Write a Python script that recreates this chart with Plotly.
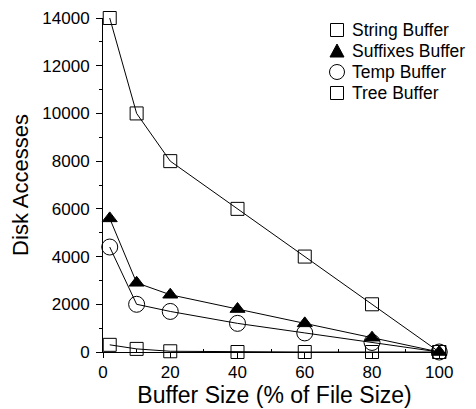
import plotly.graph_objects as go

buffer_size = [2, 10, 20, 40, 60, 80, 100]
string_buffer = [14000, 10000, 8000, 6000, 4000, 2000, 0]
suffixes_buffer = [5600, 2900, 2400, 1800, 1200, 600, 0]
temp_buffer = [4400, 2000, 1700, 1200, 800, 400, 0]
tree_buffer = [300, 130, 30, 0, 0, 0, 0]

y_ticks = [0, 2000, 4000, 6000, 8000, 10000, 12000, 14000]
x_ticks = [0, 20, 40, 60, 80, 100]
series_names = ["String Buffer", "Suffixes Buffer", "Temp Buffer", "Tree Buffer"]

series = [
    (series_names[0], string_buffer, "square-open", 13),
    (series_names[1], suffixes_buffer, "triangle-up", 13),
    (series_names[2], temp_buffer, "circle-open", 16),
    (series_names[3], tree_buffer, "square-open", 13),
]

fig = go.Figure()
for name, ys, sym, sz in series:
    fig.add_trace(go.Scatter(
        x=buffer_size, y=ys, name=name, mode="lines+markers",
        line=dict(color="black", width=1),
        marker=dict(symbol=sym, size=sz, color="black",
                    line=dict(color="black", width=1)),
        cliponaxis=False, showlegend=False,
    ))

# ---- legend (markers only, no lines), drawn with pixel-sized shapes + text ----
# page has an 8px body margin; plot area spans window px x 103..446, y 18..352
PLOT_L, PLOT_R, PLOT_T, PLOT_B = 103, 446, 18, 352
def px_x(X):
    return (X - PLOT_L) / (PLOT_R - PLOT_L)
def px_y(Y):
    return (PLOT_B - Y) / (PLOT_B - PLOT_T)

legend_marker_x = 337
legend_text_x = 350
legend_rows = [30, 51, 72, 93]
legend_kinds = ["square", "triangle", "circle", "square"]

shapes = []
annotations = []
for name, kind, row in zip(series_names, legend_kinds, legend_rows):
    common = dict(xref="paper", yref="paper", xsizemode="pixel", ysizemode="pixel",
                  xanchor=px_x(legend_marker_x), yanchor=px_y(row),
                  line=dict(color="black", width=1))
    if kind == "square":
        shapes.append(dict(type="rect", x0=-6.5, x1=6.5, y0=-6.5, y1=6.5,
                           fillcolor="white", **common))
    elif kind == "circle":
        shapes.append(dict(type="circle", x0=-7.5, x1=7.5, y0=-7.5, y1=7.5,
                           fillcolor="white", **common))
    else:
        shapes.append(dict(type="path", path="M -7,-6 L 7,-6 L 0,7 Z",
                           fillcolor="black", **common))
    annotations.append(dict(text=name, x=px_x(legend_text_x), y=px_y(row),
                            xref="paper", yref="paper", xanchor="left", yanchor="middle",
                            showarrow=False, font=dict(size=17.5)))

font = "Liberation Sans, Arial, sans-serif"
fig.update_layout(
    width=468, height=401,
    margin=dict(l=95, r=30, t=10, b=57, autoexpand=False),
    plot_bgcolor="white", paper_bgcolor="white",
    font=dict(family=font, size=17, color="black"),
    showlegend=False,
    shapes=shapes,
    annotations=annotations,
    xaxis=dict(
        range=[0, 102], tickvals=x_ticks, ticktext=[str(v) for v in x_ticks],
        showline=True, linecolor="black", linewidth=1,
        ticks="outside", ticklen=5, tickcolor="black",
        minor=dict(tickvals=[10, 30, 50, 70, 90], ticks="inside", ticklen=3, tickcolor="black"),
        showgrid=False, zeroline=False, automargin=False,
        title=dict(text="Buffer Size (% of File Size)", font=dict(size=23), standoff=4),
        tickfont=dict(size=17),
    ),
    yaxis=dict(
        range=[0, 14000], tickvals=y_ticks, ticktext=[str(v) for v in y_ticks],
        showline=True, linecolor="black", linewidth=1,
        ticks="outside", ticklen=6, tickcolor="black",
        minor=dict(dtick=1000, ticks="outside", ticklen=3, tickcolor="black"),
        showgrid=False, zeroline=False, automargin=False,
        ticklabelstandoff=3,
        title=dict(text="Disk Accesses", font=dict(size=22), standoff=14),
        tickfont=dict(size=17),
    ),
)

fig.write_html("out.html")
